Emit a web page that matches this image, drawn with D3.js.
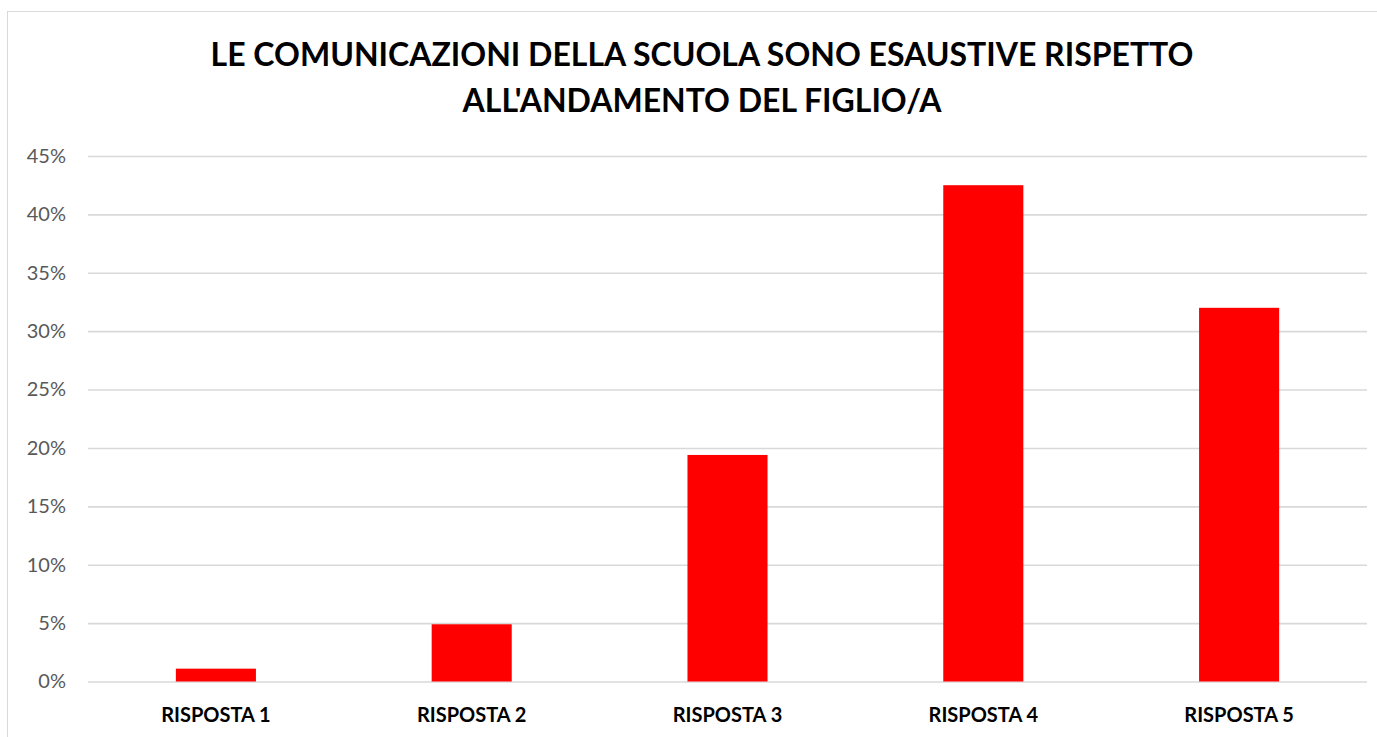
<!DOCTYPE html>
<html>
<head>
<meta charset="utf-8">
<script src="https://cdn.jsdelivr.net/npm/d3@7"></script>
<style>
  body { margin: 0; background: #fff; }
  svg { display: block; font-family: Lato, "Open Sans", sans-serif; }
</style>
</head>
<body>
<div class="container"></div>
<script>
const titleLines = ["LE COMUNICAZIONI DELLA SCUOLA SONO ESAUSTIVE RISPETTO", "ALL'ANDAMENTO DEL FIGLIO/A"]
const categories = ["RISPOSTA 1", "RISPOSTA 2", "RISPOSTA 3", "RISPOSTA 4", "RISPOSTA 5"]
const values = [0.011, 0.049, 0.194, 0.425, 0.32]
const yTicks = [0, 0.05, 0.1, 0.15, 0.2, 0.25, 0.3, 0.35, 0.4, 0.45]

const w = 1377
const h = 737
const margin = { top: 156, right: 10, bottom: 55, left: 88 }

const svg = d3.select(".container")
  .append("svg")
  .attr("width", w)
  .attr("height", h)

// chart frame
svg.append("rect")
  .attr("x", 7.5)
  .attr("y", 11.5)
  .attr("width", w)
  .attr("height", h)
  .attr("fill", "none")
  .attr("stroke", "#d9d9d9")

const xScale = d3.scaleBand()
  .domain(categories)
  .range([margin.left, w - margin.right])
  .paddingInner(0.687)
  .paddingOuter(0.3435)

const yScale = d3.scaleLinear()
  .domain([0, 0.45])
  .range([h - margin.bottom - 0.5, margin.top])

const yAxis = d3.axisLeft(yScale)
  .tickValues(yTicks)
  .tickSize(-(w - margin.right - margin.left))
  .tickPadding(22)
  .tickFormat(d3.format(".0%"))

const yG = svg.append("g")
  .attr("transform", "translate(" + margin.left + ",0)")
  .attr("font-family", "Lato, sans-serif")
  .call(yAxis)
yG.select(".domain").remove()
yG.selectAll(".tick line").attr("stroke", "#d9d9d9").attr("stroke-width", 1.6)
yG.selectAll(".tick text")
  .attr("fill", "#595959")
  .style("font-family", "Lato, sans-serif")
  .style("font-size", "20px")

svg.selectAll("rect.bar")
  .data(values)
  .enter()
  .append("rect")
  .attr("class", "bar")
  .attr("x", (d, i) => xScale(categories[i]))
  .attr("y", (d) => yScale(d))
  .attr("width", xScale.bandwidth())
  .attr("height", (d) => yScale(0) - yScale(d))
  .attr("fill", "#ff0000")

const xAxis = d3.axisBottom(xScale).tickSize(0).tickPadding(26)
const xG = svg.append("g")
  .attr("transform", "translate(0," + yScale(0) + ")")
  .call(xAxis)
xG.select(".domain").remove()
xG.selectAll(".tick text")
  .attr("fill", "#000")
  .style("font-family", "Lato, sans-serif")
  .style("font-size", "20px")
  .style("font-weight", "bold")

svg.selectAll("text.title")
  .data(titleLines)
  .enter()
  .append("text")
  .attr("class", "title")
  .attr("x", 702)
  .attr("y", (d, i) => 66 + i * 46)
  .style("text-anchor", "middle")
  .style("font-size", "32px")
  .style("font-weight", "bold")
  .attr("fill", "#000")
  .text((d) => d)
</script>
</body>
</html>
